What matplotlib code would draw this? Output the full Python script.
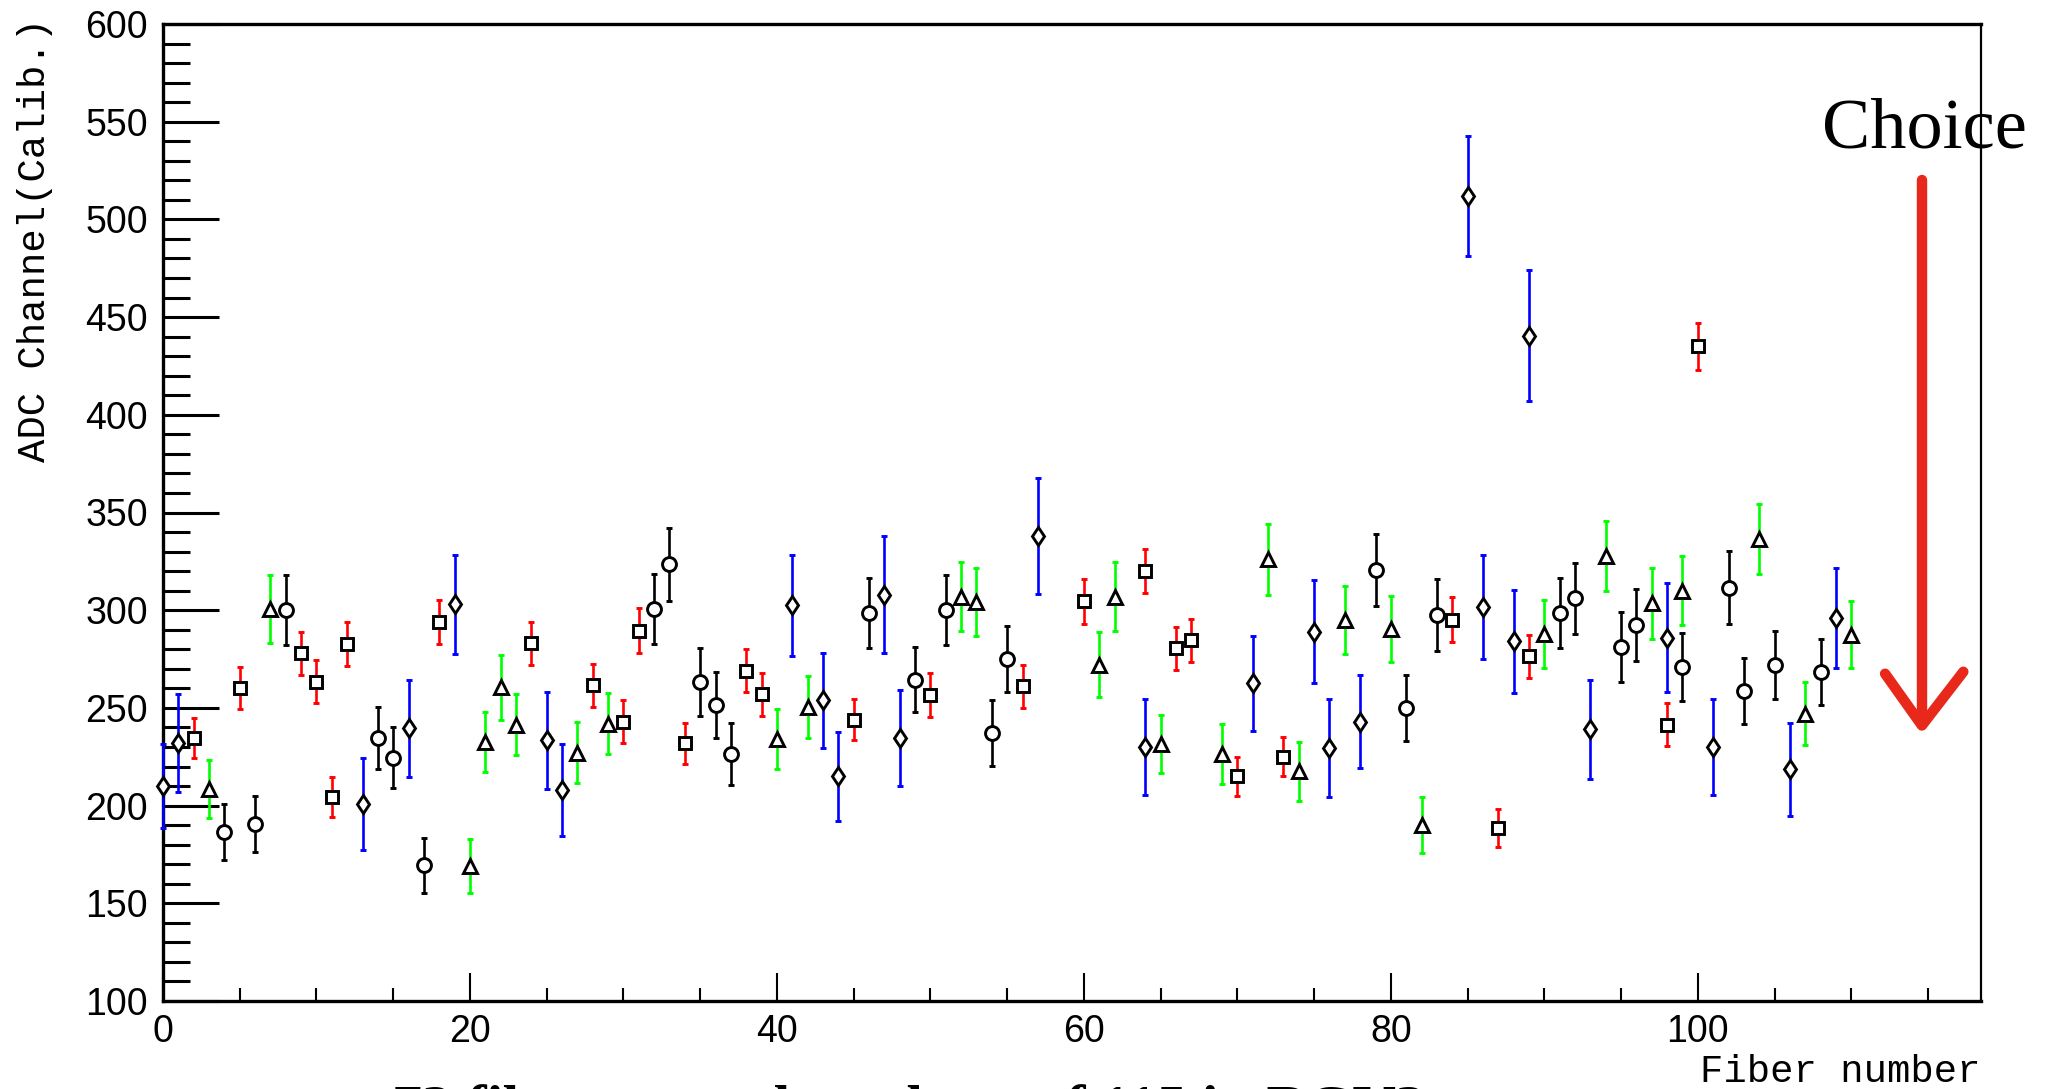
import matplotlib
matplotlib.use("Agg")
import matplotlib.pyplot as plt
from matplotlib.ticker import MultipleLocator

# fiber number / calibrated ADC channel / error, one list per marker group
diamond_x = [0, 1, 13, 16, 19, 25, 26, 41, 43, 44, 47, 48, 57, 64, 71, 75, 76, 78, 85, 86, 88, 89, 93, 98, 101, 106, 109]
diamond_y = [210, 232, 201, 239.5, 303, 233.5, 208, 302.5, 254, 215, 308, 234.5, 338, 230, 262.5, 289, 229.5, 243,
             512, 301.5, 284, 440.5, 239, 286, 230, 218.5, 296]
diamond_err = [21.5, 25, 23.5, 25, 25.3, 24.8, 23.6, 25.8, 24.3, 22.8, 30, 24.7, 29.5, 24.5, 24.4, 26.3, 25.3, 23.8,
               30.5, 26.5, 26.2, 33.5, 25.3, 27.8, 24.6, 23.6, 25.7]

circle_x = [4, 6, 8, 14, 15, 17, 32, 33, 35, 36, 37, 46, 49, 51, 54, 55, 79, 81, 83, 91, 92, 95, 96, 99, 102, 103, 105, 108]
circle_y = [186.5, 190.5, 300, 234.5, 224.5, 169.5, 300.5, 323.5, 263.5, 251.5, 226.5, 298.5, 264.5, 300, 237, 275,
            320.5, 250, 297.5, 298.5, 306, 281, 292.5, 271, 311.5, 258.5, 272, 268.5]
circle_err = [14.5, 14.5, 18, 16, 15.7, 14.1, 18, 18.7, 17.4, 16.7, 16, 18, 16.7, 18, 16.8, 17,
              18.4, 16.8, 18.3, 17.9, 18, 18, 18.5, 17.4, 18.8, 16.9, 17.6, 16.9]

square_x = [2, 5, 9, 10, 11, 12, 18, 24, 28, 30, 31, 34, 38, 39, 45, 50, 56, 60, 64, 66, 67, 70, 73, 84, 87, 89, 98, 100]
square_y = [234.5, 260, 278, 263.5, 204.5, 282.5, 294, 283, 261.5, 243, 289.5, 232, 269, 257, 244, 256.5, 261,
            304.5, 320, 280.5, 284.5, 215, 225, 295, 188.5, 276.5, 241.5, 435]
square_err = [10.3, 10.8, 11, 11, 10.2, 11.3, 11.2, 11.2, 10.8, 10.8, 11.5, 10.5, 11, 11, 10.5, 11.2, 10.8,
              11.5, 11.1, 11, 11.1, 10, 10.1, 11.5, 9.8, 11, 10.8, 11.9]

triangle_x = [3, 7, 20, 21, 22, 23, 27, 29, 40, 42, 52, 53, 61, 62, 65, 69, 72, 74, 77, 80, 82, 90, 94, 97, 99, 104, 107, 110]
triangle_y = [208.5, 300.5, 169, 232.5, 260.5, 241.5, 227, 242, 234, 250.5, 307, 304, 272, 307, 231.5, 226.5,
              326, 217.5, 295, 290.5, 190, 288, 327.5, 303.5, 310, 336.5, 247, 287.5]
triangle_err = [15, 17.3, 13.8, 15.5, 16.6, 15.6, 15.6, 15.6, 15.3, 16, 17.7, 17.4, 16.6, 17.5, 15, 15.4,
                18.2, 15, 17.4, 17, 14.3, 17.4, 17.9, 18, 17.8, 17.8, 16, 17.3]

fig = plt.figure(figsize=(20.48, 10.89), dpi=100)
ax = fig.add_axes([163 / 2048, 88 / 1089, (1981 - 163) / 2048, (1001 - 24) / 1089])

groups = [
    (diamond_x, diamond_y, diamond_err, 'd', 9.5, 'blue'),
    (circle_x, circle_y, circle_err, 'o', 10, 'black'),
    (square_x, square_y, square_err, 's', 9, 'red'),
    (triangle_x, triangle_y, triangle_err, '^', 10, '#00ff00'),
]
for xs, ys, es, mk, ms, col in groups:
    ax.errorbar(xs, ys, yerr=es, fmt=mk, ms=ms, mfc='white', mec='black', mew=2.1,
                ecolor=col, elinewidth=1.9, capsize=2.0, capthick=1.7, clip_on=False, zorder=3)

ax.set_xlim(0, 118.45)
ax.set_ylim(100, 600)
ax.xaxis.set_major_locator(MultipleLocator(20))
ax.xaxis.set_minor_locator(MultipleLocator(5))
ax.yaxis.set_major_locator(MultipleLocator(50))
ax.yaxis.set_minor_locator(MultipleLocator(10))

ax.tick_params(axis='y', which='both', direction='in', width=2.2, right=False, labelsize=27, pad=11)
ax.tick_params(axis='y', which='major', length=40)
ax.tick_params(axis='y', which='minor', length=19.5)
ax.tick_params(axis='x', which='both', direction='in', width=1.5, top=False, labelsize=27, pad=9)
ax.tick_params(axis='x', which='major', length=20)
ax.tick_params(axis='x', which='minor', length=9.5)
for lab in ax.get_xticklabels() + ax.get_yticklabels():
    lab.set_family('Liberation Sans')

for side in ['left', 'bottom', 'top']:
    ax.spines[side].set_linewidth(2.4)
ax.spines['right'].set_linewidth(1.6)

mono = 'Liberation Mono'
fig.text(35 / 2048, 1 - 18 / 1089, 'ADC Channel(Calib.)', rotation=90, ha='center', va='top',
         family=mono, fontsize=28)
fig.text(1981 / 2048, 1 - 1072 / 1089, 'Fiber number', ha='right', va='center', family=mono, fontsize=28)

# hand-drawn red arrow pointing to the "Choice" position
red = '#e8281b'
ax.plot([114.6, 114.6], [520, 242], color=red, lw=7.5, solid_capstyle='round', clip_on=False, zorder=5)
ax.plot([112.2, 114.6, 117.3], [267.5, 241, 268.5], color=red, lw=7.5, solid_capstyle='round',
        solid_joinstyle='round', clip_on=False, zorder=5)
fig.text(1822 / 2048, 1 - 147 / 1089, 'Choice', ha='left', va='baseline', family='Liberation Serif',
         fontsize=52, zorder=6)

# slide caption, cut off by the bottom of the picture as in the source
fig.text(392 / 2048, 1 - 1085 / 1089, '72 fibers are selected out of 115 in BGV?', ha='left', va='top',
         family='Liberation Serif', fontweight='bold', fontsize=43)

fig.savefig('out.png', dpi=100)
